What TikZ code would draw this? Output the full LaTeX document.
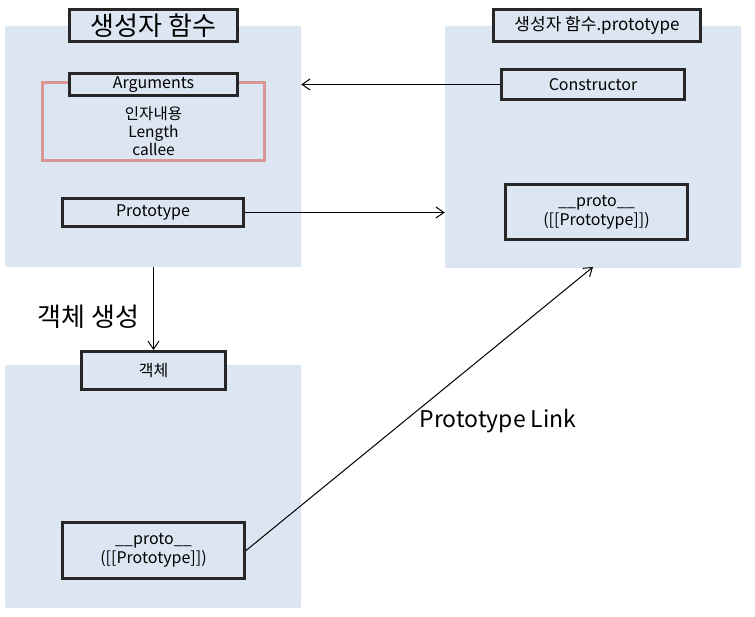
\documentclass[tikz,border=0pt]{standalone}
\usepackage{fontspec}
\setmainfont{Noto Sans CJK KR}
\usetikzlibrary{arrows.meta}
\definecolor{panelfill}{RGB}{220,230,242}
\definecolor{boxline}{RGB}{38,38,38}
\definecolor{redline}{RGB}{217,150,148}
\tikzset{
  panel/.style={fill=panelfill, draw=none, rounded corners=1.5pt, inner sep=0pt},
  kbox/.style={draw=boxline, line width=3pt, fill=panelfill, inner sep=0pt, align=center, font=\fontsize{16}{19}\selectfont},
  conn/.style={line width=1pt, -{Straight Barb[length=8pt,width=11pt]}},
}
\begin{document}
\begin{tikzpicture}[x=1pt,y=-1pt]
\useasboundingbox[fill=white] (0,0) rectangle (755,617);
% panels
\node[panel, minimum width=296pt, minimum height=241pt] (pa) at (153,146.5) {};
\node[panel, minimum width=296pt, minimum height=242pt] (pb) at (593,147) {};
\node[panel, minimum width=296pt, minimum height=243pt] (pc) at (153,486.5) {};
% top-left
\node[kbox, minimum width=168pt, minimum height=32pt, font=\fontsize{26}{30}\selectfont] (t1) at (153.5,25.5) {생성자 함수};
\node[draw=redline, line width=3pt, minimum width=222pt, minimum height=78pt, inner sep=0pt] (red) at (153.5,121.5) {};
\node[kbox, minimum width=168pt, minimum height=22pt] (args) at (153.5,84.5) {Arguments};
\node[align=center, font=\fontsize{15.5}{18}\selectfont, inner sep=0pt] (argtxt) at (153.5,131) {인자내용\\Length\\callee};
\node[kbox, minimum width=181pt, minimum height=28pt] (p1) at (153,212.5) {Prototype};
% top-right
\node[kbox, minimum width=207pt, minimum height=32pt, font=\fontsize{17}{20}\selectfont] (t2) at (597,25.5) {생성자 함수.prototype};
\node[kbox, minimum width=183pt, minimum height=30pt] (cons) at (593,84.5) {Constructor};
\node[kbox, minimum width=182pt, minimum height=55pt] (p2) at (596.5,212) {\_\_proto\_\_\\([[Prototype]])};
% bottom-left
\node[kbox, minimum width=144pt, minimum height=38pt] (obj) at (153.5,370.5) {객체};
\node[kbox, minimum width=182pt, minimum height=56pt] (p3) at (153.5,550.5) {\_\_proto\_\_\\([[Prototype]])};
% labels
\node[font=\fontsize{26}{30}\selectfont, inner sep=0pt] (lbl1) at (88.5,317) {객체 생성};
\node[font=\fontsize{23}{27}\selectfont, inner sep=0pt] (lbl2) at (498,421) {Prototype Link};
% connectors
\coordinate (linkend) at (593,267);
\draw[conn] (cons.west) -- (cons.west -| pa.east);
\draw[conn] (p1.east) -- (p1.east -| pb.west);
\draw[conn] (obj.north |- pa.south) -- (obj.north);
\draw[conn] (p3.east) -- (linkend);
\end{tikzpicture}
\end{document}
